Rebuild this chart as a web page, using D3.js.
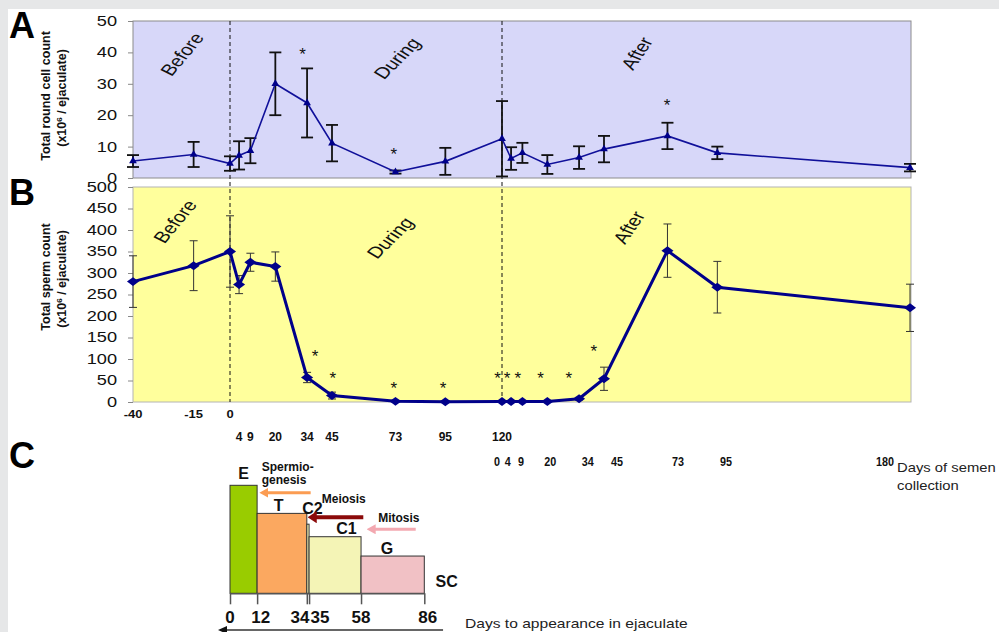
<!DOCTYPE html>
<html>
<head>
<meta charset="utf-8">
<script src="https://cdn.jsdelivr.net/npm/d3@7"></script>
<style>
body { margin: 0; background: #fff; }
svg { display: block; }
text { font-family: Arial, 'Liberation Sans', sans-serif; }
</style>
</head>
<body>
<svg id="chart"></svg>
<script>
// study day of each collection (before: -40..0, during: 0..120, after: 120 + day)
var days = [-40, -15, 0, 4, 9, 20, 34, 45, 73, 95, 120, 124, 129, 140, 154, 165, 193, 215, 300];

// panel A, total round cell count (x10^6 / ejaculate)
var roundMean = [5.4, 7.5, 4.6, 7.2, 8.7, 30, 23.9, 11.1, 1.9, 5.3, 12.5, 6.2, 8.0, 4.3, 6.5, 9.2, 13.4, 8.0, 3.3];
var roundErr = [1.9, 4, 2.3, 4.5, 4, 10, 11, 5.8, 0.5, 4.3, 12, 3.6, 3.2, 3, 3.6, 4.2, 4.2, 2, 1.2];

// panel B, total sperm count (x10^6 / ejaculate)
var spermMean = [280, 317, 350, 273, 325, 315, 57, 15, 1.5, 0.5, 1, 1, 1, 1, 7.7, 54, 352, 267, 219];
var spermErr = [60, 58, 83, 21, 21, 34, 12, 8, 0, 0, 0, 0, 0, 0, 3, 27, 62, 60, 55];

// significance stars (day, value where the star sits)
var starDayA = [32, 72.3, 192.8];
var starValA = [40.3, 8.6, 24.2];
var starDayB = [37.5, 45.4, 72.3, 94, 118, 122.2, 127, 137, 149.5, 160.5];
var starValB = [114, 63.5, 40, 40, 63.5, 63.5, 63.5, 63.5, 63.5, 126];

// period labels
var periods = ['Before', 'During', 'After'];
var periodDayA = [-19.8, 73.7, 179.5], periodValA = [39.4, 38.1, 39.7];
var periodDayB = [-22.7, 70.6, 176], periodValB = [420, 382, 406];
var periodAngle = [-57, -52, -62];

// x tick label rows
var row1 = [-40, -15, 0];
var row2 = [4, 9, 20, 34, 45, 73, 95, 120];
var row3 = [0, 4, 9, 20, 34, 45, 73, 95, 180];

var ticksA = [0, 10, 20, 30, 40, 50];
var ticksB = [0, 50, 100, 150, 200, 250, 300, 350, 400, 450, 500];

// panel C, spermatogenesis stages
var stages = ['E', 'T', 'C2', 'C1', 'G'];
var stageStart = [0, 12, 34, 35, 58];
var stageEnd = [12, 34, 35, 58, 86];
var stageHeight = [100, 74, 64, 52.4, 34.5];
var stageColor = ['#99cc00', '#fba860', '#f4f4b6', '#f4f4b6', '#f1c1c5'];
var stageLabelDay = [6, 21.5, 36.5, 51.5, 69.5, 95.9];
var stageLabelH = [105.6, 76.2, 73.1, 54.9, 36.4, 6.1];
var stageLabels = ['E', 'T', 'C2', 'C1', 'G', 'SC'];
var boundaries = [0, 12, 34, 35, 58, 86];
var boundaryLabelDay = [0, 13.6, 31, 39.8, 58, 87.5];

var processes = [['Spermio-', 'genesis'], ['Meiosis'], ['Mitosis']];
var processTextDay = [14, 40.6, 65.6], processTextH = [113.5, 83.3, 66.4];
var arrowFrom = [35.7, 59, 82.2], arrowTo = [13, 34.4, 60.5], arrowH = [93.1, 70.4, 59.3];
var arrowColor = ['#fb9c52', '#8b0a0a', '#f3a8b0'];
var arrowWidth = [3, 4, 3];

var W = 999, H = 632;
var svg = d3.select('#chart').attr('width', W).attr('height', H);
var sx = 1.3; // the chart text is stretched sideways in the figure

// grey frame of the page
svg.append('rect').attr('x', 0).attr('y', 0).attr('width', W).attr('height', 9).attr('fill', '#e6e7e8');
svg.append('rect').attr('x', 0).attr('y', 0).attr('width', 8).attr('height', H).attr('fill', '#e6e7e8');

var x = d3.scaleLinear().domain([-40, 0, 300]).range([133, 230, 910]);
var yA = d3.scaleLinear().domain([0, 50]).range([178, 21]);
var yB = d3.scaleLinear().domain([0, 500]).range([402, 187]);

function tickText(px, py, str, size, stretch) {
    return svg.append('text')
        .attr('transform', 'translate(' + px + ',' + py + ') scale(' + stretch + ',1)')
        .attr('font-size', size)
        .attr('font-weight', 'bold')
        .attr('text-anchor', 'middle')
        .attr('fill', '#111')
        .text(str);
}

// plot backgrounds
svg.append('rect')
    .attr('x', x(-40)).attr('y', yA(50))
    .attr('width', x(300) - x(-40) + 1).attr('height', yA(0) - yA(50))
    .attr('fill', '#d7d7f9').attr('stroke', '#8c8c8c');
svg.append('rect')
    .attr('x', x(-40)).attr('y', yB(500))
    .attr('width', x(300) - x(-40) + 1).attr('height', yB(0) - yB(500))
    .attr('fill', '#ffff9c').attr('stroke', '#b4b4b4');

// y axes
function yAxis(scale, ticks) {
    var g = svg.append('g').attr('transform', 'translate(' + x(-40) + ',0)')
        .call(d3.axisLeft(scale).tickValues(ticks).tickSize(5).tickPadding(7.3));
    g.select('.domain').remove();
    g.selectAll('.tick line').attr('stroke', '#888');
    g.selectAll('.tick text')
        .attr('font-size', 14)
        .attr('font-family', 'Arial, Liberation Sans, sans-serif')
        .attr('fill', '#111')
        .attr('transform', 'scale(' + sx + ',1)');
}
yAxis(yA, ticksA);
yAxis(yB, ticksB);

// y titles
function yTitle(cy, line1) {
    svg.append('text')
        .attr('transform', 'translate(50,' + cy + ') rotate(-90)')
        .attr('text-anchor', 'middle').attr('font-size', 12.5).attr('font-weight', 'bold')
        .attr('fill', '#111').text(line1);
    var t2 = svg.append('text')
        .attr('transform', 'translate(66,' + (cy + 2) + ') rotate(-90)')
        .attr('text-anchor', 'middle').attr('font-size', 12.5).attr('font-weight', 'bold')
        .attr('fill', '#111');
    t2.append('tspan').text('(x10');
    t2.append('tspan').attr('font-size', 8).attr('dy', -4).text('6');
    t2.append('tspan').attr('dy', 4).text(' / ejaculate)');
}
yTitle(96, 'Total round cell count');
yTitle(277, 'Total sperm count');

// dashed phase boundaries
svg.selectAll('.phase')
    .data([0, 120])
    .enter().append('line')
    .attr('x1', function (d) { return x(d); })
    .attr('x2', function (d) { return x(d); })
    .attr('y1', yA(50))
    .attr('y2', yB(0))
    .attr('stroke', '#111')
    .attr('stroke-width', 1)
    .attr('stroke-dasharray', '4,3');

// period labels
function periodLabels(pd, pv, yScale) {
    periods.forEach(function (p, i) {
        svg.append('text')
            .attr('transform', 'translate(' + x(pd[i]) + ',' + yScale(pv[i]) + ') scale(' + sx + ',1) rotate(' + periodAngle[i] + ')')
            .attr('text-anchor', 'middle')
            .attr('dy', '0.35em')
            .attr('font-size', 16)
            .attr('fill', '#111')
            .text(p);
    });
}
periodLabels(periodDayA, periodValA, yA);
periodLabels(periodDayB, periodValB, yB);

// error bars
function errorBars(mean, err, yScale, cap, color, width) {
    var g = svg.append('g').attr('stroke', color).attr('stroke-width', width);
    days.forEach(function (d, i) {
        if (err[i] <= 0) return;
        var cx = x(d), top = yScale(mean[i] + err[i]), bot = yScale(Math.max(0, mean[i] - err[i]));
        g.append('line').attr('x1', cx).attr('x2', cx).attr('y1', top).attr('y2', bot);
        g.append('line').attr('x1', cx - cap).attr('x2', cx + cap).attr('y1', top).attr('y2', top);
        g.append('line').attr('x1', cx - cap).attr('x2', cx + cap).attr('y1', bot).attr('y2', bot);
    });
}
errorBars(roundMean, roundErr, yA, 6, '#111', 1.8);
errorBars(spermMean, spermErr, yB, 4, '#333', 1);

// lines
var lineA = d3.line().x(function (d, i) { return x(days[i]); }).y(function (d) { return yA(d); });
svg.append('path').datum(roundMean).attr('d', lineA)
    .attr('fill', 'none').attr('stroke', '#10109a').attr('stroke-width', 1.6);
var lineB = d3.line().x(function (d, i) { return x(days[i]); }).y(function (d) { return yB(d); });
svg.append('path').datum(spermMean).attr('d', lineB)
    .attr('fill', 'none').attr('stroke', '#00008a').attr('stroke-width', 3);

// markers
svg.selectAll('.triA')
    .data(roundMean)
    .enter().append('path')
    .attr('d', d3.symbol().type(d3.symbolTriangle).size(26))
    .attr('transform', function (d, i) { return 'translate(' + x(days[i]) + ',' + yA(d) + ')'; })
    .attr('fill', '#00008a');
svg.selectAll('.diaB')
    .data(spermMean)
    .enter().append('path')
    .attr('d', d3.symbol().type(d3.symbolSquare).size(40))
    .attr('transform', function (d, i) { return 'translate(' + x(days[i]) + ',' + yB(d) + ') scale(1.35,1) rotate(45)'; })
    .attr('fill', '#00008a');

// stars
function stars(sd, sv, yScale) {
    sd.forEach(function (d, i) {
        svg.append('text')
            .attr('x', x(d)).attr('y', yScale(sv[i]) + 9)
            .attr('text-anchor', 'middle')
            .attr('font-size', 17)
            .attr('fill', '#111')
            .text('*');
    });
}
stars(starDayA, starValA, yA);
stars(starDayB, starValB, yB);

// x tick label rows
var rowLabel = d3.scaleLinear().domain([0, 45, 95, 180]).range([497, 617, 726, 885]);
row1.forEach(function (d) { tickText(x(d), 418, d, 10, sx); });
row2.forEach(function (d) { tickText(x(d), 441, d, 12, 1.0); });
row3.forEach(function (d) { tickText(rowLabel(d), 466, d, 12, 0.9); });
var dsc = svg.append('text')
    .attr('transform', 'translate(897,472) scale(1.14,1)')
    .attr('font-size', 13).attr('fill', '#222');
dsc.append('tspan').attr('x', 0).text('Days of semen');
dsc.append('tspan').attr('x', 0).attr('dy', 18).text('collection');

// panel letters
[['A', 38], ['B', 205], ['C', 468]].forEach(function (p) {
    svg.append('text').attr('x', 9).attr('y', p[1])
        .attr('font-size', 36).attr('font-weight', 'bold').attr('fill', '#000')
        .text(p[0]);
});

// ---- panel C ----
var cX = d3.scaleLinear().domain([0, 86]).range([230, 424.3]);
var cY = d3.scaleLinear().domain([0, 100]).range([593.3, 485.3]);

svg.selectAll('.stage')
    .data(stages)
    .enter().append('rect')
    .attr('x', function (d, i) { return cX(stageStart[i]); })
    .attr('y', function (d, i) { return cY(stageHeight[i]); })
    .attr('width', function (d, i) { return cX(stageEnd[i]) - cX(stageStart[i]); })
    .attr('height', function (d, i) { return cY(0) - cY(stageHeight[i]); })
    .attr('fill', function (d, i) { return stageColor[i]; })
    .attr('stroke', '#333')
    .attr('stroke-width', 1);

stageLabels.forEach(function (s, i) {
    svg.append('text')
        .attr('x', cX(stageLabelDay[i])).attr('y', cY(stageLabelH[i]))
        .attr('text-anchor', 'middle')
        .attr('font-size', 16).attr('font-weight', 'bold').attr('fill', '#111')
        .text(s);
});

var cAxis = svg.append('g').attr('transform', 'translate(0,' + cY(0) + ')')
    .call(d3.axisBottom(cX).tickValues(boundaries).tickSize(11).tickSizeOuter(0).tickFormat(''));
cAxis.selectAll('path, line').attr('stroke', '#555').attr('stroke-width', 1.5);

boundaries.forEach(function (b, i) {
    svg.append('text')
        .attr('x', cX(boundaryLabelDay[i])).attr('y', 623)
        .attr('text-anchor', 'middle')
        .attr('font-size', 17).attr('font-weight', 'bold').attr('fill', '#111')
        .text(b);
});

// arrowheads: drawn pointing right, reversed at the line start so they point left
var defs = svg.append('defs');
function head(id, color, w, h) {
    defs.append('marker')
        .attr('id', id)
        .attr('viewBox', '0 0 ' + w + ' ' + h)
        .attr('refX', 2).attr('refY', h / 2)
        .attr('markerWidth', w).attr('markerHeight', h)
        .attr('markerUnits', 'userSpaceOnUse')
        .attr('orient', 'auto-start-reverse')
        .append('path').attr('d', 'M0,0L' + w + ',' + (h / 2) + 'L0,' + h + 'Z').attr('fill', color);
}
arrowColor.forEach(function (c, i) { head('head' + i, c, 9, 4 + arrowWidth[i] * 2); });
head('headDays', '#111', 9, 8);

processes.forEach(function (p, i) {
    svg.append('line')
        .attr('x1', cX(arrowTo[i]) + 7).attr('x2', cX(arrowFrom[i]))
        .attr('y1', cY(arrowH[i])).attr('y2', cY(arrowH[i]))
        .attr('stroke', arrowColor[i]).attr('stroke-width', arrowWidth[i])
        .attr('marker-start', 'url(#head' + i + ')');
    var t = svg.append('text')
        .attr('x', cX(processTextDay[i])).attr('y', cY(processTextH[i]))
        .attr('font-size', 12).attr('font-weight', 'bold').attr('fill', '#111');
    p.forEach(function (line, j) {
        t.append('tspan').attr('x', cX(processTextDay[i])).attr('dy', j ? 13.3 : 0).text(line);
    });
});

// days to appearance arrow
svg.append('line')
    .attr('x1', cX(-5.3) + 7).attr('x2', cX(94.3))
    .attr('y1', 630).attr('y2', 630)
    .attr('stroke', '#666').attr('stroke-width', 2)
    .attr('marker-start', 'url(#headDays)');
svg.append('text')
    .attr('transform', 'translate(465,628) scale(1.2,1)')
    .attr('font-size', 13).attr('fill', '#222')
    .text('Days to appearance in ejaculate');
</script>
</body>
</html>
